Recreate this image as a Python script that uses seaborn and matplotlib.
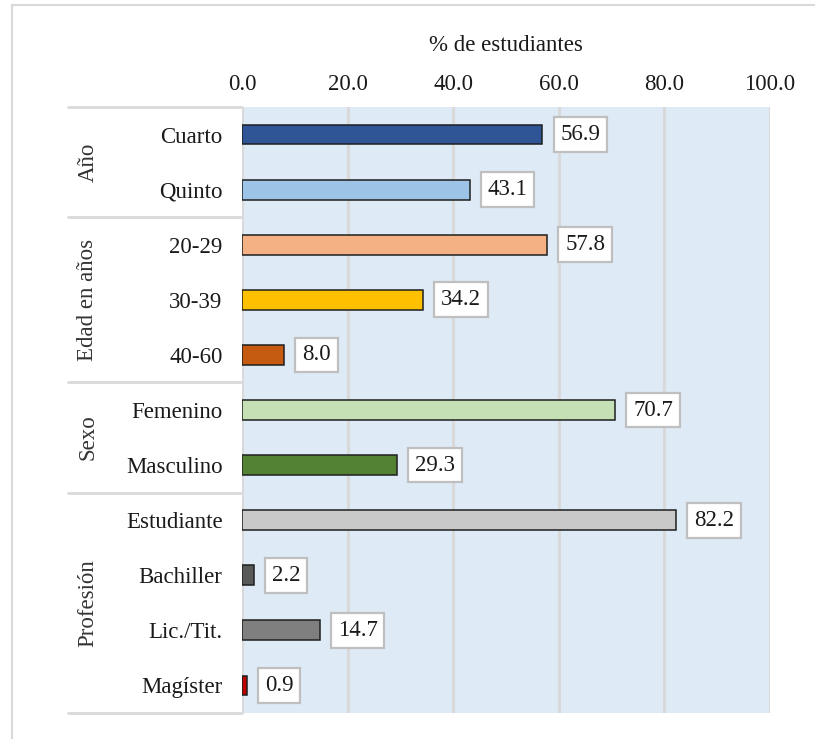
import matplotlib
matplotlib.use("Agg")
import matplotlib.pyplot as plt
import matplotlib.transforms as mtransforms
from matplotlib.lines import Line2D
import seaborn as sns
import pandas as pd

# data
categories = ["Cuarto", "Quinto", "20-29", "30-39", "40-60", "Femenino",
              "Masculino", "Estudiante", "Bachiller", "Lic./Tit.", "Magíster"]
percentages = [56.9, 43.1, 57.8, 34.2, 8.0, 70.7, 29.3, 82.2, 2.2, 14.7, 0.9]
bar_colors = ["#2F5597", "#9DC3E6", "#F4B183", "#FFC000", "#C55A11", "#C5E0B4",
              "#548235", "#C9C9C9", "#595959", "#7F7F7F", "#C00000"]
groups = ["Año", "Edad en años", "Sexo", "Profesión"]
group_sizes = [2, 3, 2, 4]
x_ticks = [0, 20, 40, 60, 80, 100]

sns.set_style("white")
plt.rcParams["font.family"] = ["Liberation Serif", "DejaVu Serif"]
text_color = "#1A1A1A"
fs = 16.5

df = pd.DataFrame({"cat": categories, "pct": percentages})

fig = plt.figure(figsize=(8.15, 7.39), dpi=100)
W, H = 815, 739
ax = fig.add_axes([242 / W, 1 - 713 / H, (770 - 242) / W, (713 - 107) / H])
ax.set_facecolor("#DEEAF6")

sns.barplot(data=df, y="cat", x="pct", hue="cat", palette=bar_colors, saturation=1,
            orient="h", width=0.36, edgecolor="#1F1F1F", linewidth=1.1,
            legend=False, ax=ax, zorder=3)

ax.set_xlim(0, 100)
ax.set_ylim(len(categories) - 0.5, -0.5)
ax.xaxis.tick_top()
ax.xaxis.set_label_position("top")
ax.set_xticks(x_ticks)
ax.set_xticklabels([f"{t:.1f}" for t in x_ticks], fontsize=fs, color=text_color)
ax.set_xlabel("% de estudiantes", fontsize=fs, color=text_color, labelpad=16)
ax.set_ylabel("")
ax.tick_params(axis="x", length=0, pad=9)
ax.tick_params(axis="y", length=0, pad=14, labelsize=fs, labelcolor=text_color)
ax.grid(axis="x", color="#D9D9D9", linewidth=2.2, zorder=0)
ax.set_axisbelow(True)
for s in ax.spines.values():
    s.set_visible(False)

# value labels in white boxes
for i, v in enumerate(percentages):
    ax.annotate(f"{v:.1f}", xy=(v, i), xytext=(13, 0), textcoords="offset points",
                ha="left", va="center", fontsize=fs, color=text_color, zorder=5,
                bbox=dict(boxstyle="square,pad=0.3", facecolor="white",
                          edgecolor="#BFBFBF", linewidth=1.6))

# group panel on the left
trans = mtransforms.blended_transform_factory(ax.transAxes, ax.transData)
panel_left = -(242 - 68) / (770 - 242)
group_x = -(242 - 88) / (770 - 242)
start = 0
bounds = [-0.5]
for g, n in zip(groups, group_sizes):
    end = start + n
    bounds.append(end - 0.5)
    ax.text(group_x, (start + end - 1) / 2, g, rotation=90, ha="center", va="center",
            fontsize=fs, color="#333333", transform=trans)
    start = end
for b in bounds:
    ax.plot([panel_left, 0], [b, b], color="#D9D9D9", linewidth=2,
            transform=trans, clip_on=False)

# outer chart border
fig.add_artist(Line2D([12 / W, 12 / W], [0, 1 - 5 / H], color="#D9D9D9", linewidth=1.5))
fig.add_artist(Line2D([12 / W, 1], [1 - 5 / H, 1 - 5 / H], color="#D9D9D9", linewidth=1.5))

fig.savefig("out.png", dpi=100)
